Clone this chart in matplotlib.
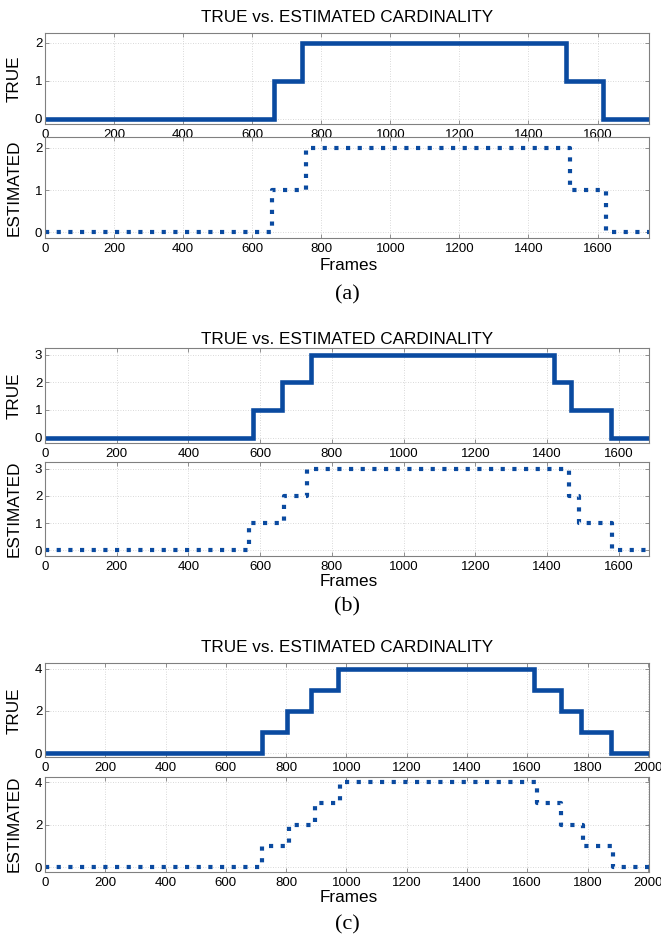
import matplotlib
matplotlib.use("Agg")
import matplotlib.pyplot as plt

# Figure size in pixels (dpi 100).
W, H = 661, 939
BLUE = "#0a4aa0"

# Change points (frames) and cardinality levels.
A_TRUE_X = [0, 663, 745, 1509, 1617, 1750]
A_TRUE_Y = [0, 1, 2, 1, 0, 0]
A_EST_X = [0, 656, 755, 1520, 1626, 1750]
A_EST_Y = [0, 1, 2, 1, 0, 0]

B_TRUE_X = [0, 580, 660, 741, 1418, 1466, 1577, 1685]
B_TRUE_Y = [0, 1, 2, 3, 2, 1, 0, 0]
B_EST_X = [0, 568, 667, 730, 1461, 1489, 1582, 1685]
B_EST_Y = [0, 1, 2, 3, 2, 1, 0, 0]

C_TRUE_X = [0, 721, 802, 881, 971, 1623, 1711, 1777, 1877, 2005]
C_TRUE_Y = [0, 1, 2, 3, 4, 3, 2, 1, 0, 0]
C_EST_X = [0, 719, 809, 897, 978, 1634, 1711, 1784, 1885, 2005]
C_EST_Y = [0, 1, 2, 3, 4, 3, 2, 1, 0, 0]

X_MAX = [1750, 1685, 2005]
Y_LIM = [(-0.14, 2.25), (-0.21, 3.23), (-0.2, 4.25)]
Y_TICKS = [[0, 1, 2], [0, 1, 2, 3], [0, 2, 4]]
PANEL_LABELS = ["(a)", "(b)", "(c)"]

# pixel geometry: (top, bottom) of TRUE and ESTIMATED axes per panel
ROWS = [
    ((33.3, 124.3), (137.3, 238.3)),
    ((348.3, 443.3), (462.3, 556.0)),
    ((663.3, 757.3), (776.7, 871.7)),
]
TITLE_Y = [18, 339, 648]
FRAMES_Y = [266, 582, 897]
LABEL_Y = [295, 607, 925]
LEFT, RIGHT = 45.0, 649.3

plt.rcParams["font.family"] = ["Liberation Sans", "DejaVu Sans"]

fig = plt.figure(figsize=(W / 100, H / 100), dpi=100)


def px_axes(top, bottom):
    return fig.add_axes([LEFT / W, 1 - bottom / H, (RIGHT - LEFT) / W, (bottom - top) / H])


def style_axis(ax, xmax, ylim, yticks, ylabel):
    ax.set_xlim(0, xmax)
    ax.set_ylim(*ylim)
    ax.set_xticks(range(0, xmax + 1, 200))
    ax.set_yticks(yticks)
    ax.grid(True, linestyle=(0, (1, 2)), color="#cdcdcd", linewidth=0.6)
    ax.set_axisbelow(True)
    for spine in ax.spines.values():
        spine.set_color("#808080")
        spine.set_linewidth(0.8)
    ax.tick_params(direction="in", length=3, width=0.6, color="#808080",
                   top=True, right=True, labelsize=9.5)
    ax.tick_params(axis="x", pad=3.5)
    ax.tick_params(axis="y", pad=2)
    ax.set_ylabel(ylabel, fontsize=12.3, labelpad=2)


true_series = [(A_TRUE_X, A_TRUE_Y), (B_TRUE_X, B_TRUE_Y), (C_TRUE_X, C_TRUE_Y)]
est_series = [(A_EST_X, A_EST_Y), (B_EST_X, B_EST_Y), (C_EST_X, C_EST_Y)]

for i in range(3):
    (t_top, t_bot), (e_top, e_bot) = ROWS[i]
    ax_t = px_axes(t_top, t_bot)
    ax_e = px_axes(e_top, e_bot)

    tx, ty = true_series[i]
    ax_t.step(tx, ty, where="post", color=BLUE, linewidth=3.3, solid_joinstyle="miter")
    ex, ey = est_series[i]
    ax_e.step(ex, ey, where="post", color=BLUE, linewidth=3.0, linestyle=(0, (1, 1.8)))

    style_axis(ax_t, X_MAX[i], Y_LIM[i], Y_TICKS[i], "TRUE")
    style_axis(ax_e, X_MAX[i], Y_LIM[i], Y_TICKS[i], "ESTIMATED")
    ax_t.yaxis.set_label_coords(-(LEFT - 21.7) / (RIGHT - LEFT), 0.5)
    ax_e.yaxis.set_label_coords(-(LEFT - 21.7) / (RIGHT - LEFT), 0.5)

    fig.text(347 / W, 1 - TITLE_Y[i] / H, "TRUE vs. ESTIMATED CARDINALITY",
             ha="center", va="center", fontsize=12.3)
    fig.text(349 / W, 1 - FRAMES_Y[i] / H, "Frames", ha="center", va="center", fontsize=12.3)
    fig.text(347 / W, 1 - LABEL_Y[i] / H, PANEL_LABELS[i], ha="center", va="center",
             fontsize=16, family=["Liberation Serif", "DejaVu Serif"])

fig.savefig("out.png", dpi=100)
